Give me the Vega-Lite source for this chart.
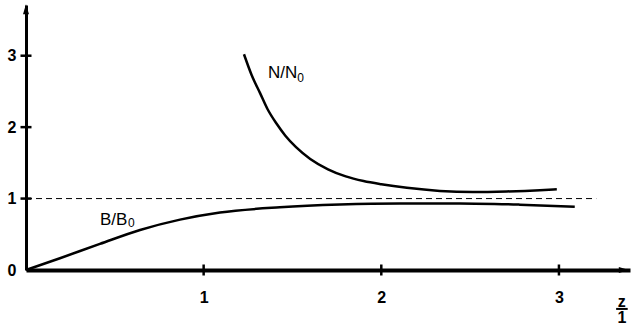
{
  "$schema": "https://vega.github.io/schema/vega-lite/v6.json",
  "autosize": {"type": "none"},
  "padding": {"left": 26, "top": 5, "right": 2, "bottom": 58},
  "width": 604,
  "height": 265,
  "background": "white",
  "config": {"view": {"stroke": null}},
  "datasets": {
    "curves": [
      {"series": "B", "z": 0, "v": 0},
      {"series": "B", "z": 0.191, "v": 0.165},
      {"series": "B", "z": 0.416, "v": 0.365},
      {"series": "B", "z": 0.642, "v": 0.56},
      {"series": "B", "z": 0.867, "v": 0.705},
      {"series": "B", "z": 1.092, "v": 0.805},
      {"series": "B", "z": 1.429, "v": 0.878},
      {"series": "B", "z": 1.767, "v": 0.917},
      {"series": "B", "z": 2.105, "v": 0.932},
      {"series": "B", "z": 2.442, "v": 0.932},
      {"series": "B", "z": 2.78, "v": 0.915},
      {"series": "B", "z": 3.089, "v": 0.885},
      {"series": "N", "z": 1.227, "v": 3.02},
      {"series": "N", "z": 1.27, "v": 2.73},
      {"series": "N", "z": 1.317, "v": 2.48},
      {"series": "N", "z": 1.36, "v": 2.25},
      {"series": "N", "z": 1.41, "v": 2.05},
      {"series": "N", "z": 1.46, "v": 1.88},
      {"series": "N", "z": 1.52, "v": 1.72},
      {"series": "N", "z": 1.6, "v": 1.555},
      {"series": "N", "z": 1.7, "v": 1.41},
      {"series": "N", "z": 1.8, "v": 1.31},
      {"series": "N", "z": 1.9, "v": 1.245},
      {"series": "N", "z": 2.0, "v": 1.2},
      {"series": "N", "z": 2.144, "v": 1.15},
      {"series": "N", "z": 2.33, "v": 1.107},
      {"series": "N", "z": 2.515, "v": 1.092},
      {"series": "N", "z": 2.707, "v": 1.1},
      {"series": "N", "z": 2.893, "v": 1.117},
      {"series": "N", "z": 2.988, "v": 1.13}
    ],
    "ref": [{"z": 0, "v": 1}, {"z": 3.21, "v": 1}],
    "yticks": [{"z": 0, "v": 1}, {"z": 0, "v": 2}, {"z": 0, "v": 3}],
    "xticks": [{"z": 1, "v": 0}, {"z": 2, "v": 0}, {"z": 3, "v": 0}],
    "labels": [
      {"z": 1.362, "v": 2.685, "label": "N/N"},
      {"z": 0.416, "v": 0.629, "label": "B/B"}
    ],
    "subs": [
      {"z": 1.527, "v": 2.63, "label": "0"},
      {"z": 0.574, "v": 0.601, "label": "0"}
    ],
    "frac": [
      {"z": 3.354, "v": -0.517, "label": "z"},
      {"z": 3.354, "v": -0.741, "label": "1"}
    ],
    "bar": [{"z": 3.322, "z2": 3.387, "v": -0.545}],
    "arrowY": [{"z": 0, "v": 3.65}],
    "arrowX": [{"z": 3.365, "v": 0}]
  },
  "encoding": {
    "x": {
      "field": "z", "type": "quantitative",
      "scale": {"domain": [0, 3.4], "nice": false, "zero": false},
      "axis": {
        "values": [1, 2, 3], "ticks": false, "grid": false, "title": null,
        "domainColor": "black", "domainWidth": 4,
        "labelPadding": 19, "labelFont": "Liberation Sans", "labelFontSize": 16,
        "labelFontWeight": "bold", "labelColor": "black"
      }
    },
    "y": {
      "field": "v", "type": "quantitative",
      "scale": {"domain": [0, 3.71], "nice": false, "zero": false},
      "axis": {
        "values": [0, 1, 2, 3], "ticks": false, "grid": false, "title": null,
        "domainColor": "black", "domainWidth": 3,
        "labelPadding": 10, "labelFont": "Liberation Sans", "labelFontSize": 16,
        "labelFontWeight": "bold", "labelColor": "black"
      }
    }
  },
  "layer": [
    {
      "data": {"name": "ref"},
      "mark": {"type": "line", "color": "black", "strokeWidth": 1, "strokeDash": [6, 4]}
    },
    {
      "data": {"name": "curves"},
      "mark": {"type": "line", "color": "black", "strokeWidth": 2.5, "interpolate": "monotone"},
      "encoding": {"detail": {"field": "series"}}
    },
    {
      "data": {"name": "yticks"},
      "mark": {"type": "tick", "orient": "horizontal", "color": "black", "size": 11, "thickness": 2.5, "opacity": 1}
    },
    {
      "data": {"name": "xticks"},
      "mark": {"type": "tick", "orient": "vertical", "color": "black", "size": 11, "thickness": 2.5, "opacity": 1}
    },
    {
      "data": {"name": "arrowY"},
      "mark": {"type": "point", "shape": "M0,-1L-0.6,1L0.6,1Z", "size": 100, "filled": true, "color": "black", "opacity": 1}
    },
    {
      "data": {"name": "arrowX"},
      "mark": {"type": "point", "shape": "M1,0L-1,-0.6L-1,0.6Z", "size": 100, "filled": true, "color": "black", "opacity": 1}
    },
    {
      "data": {"name": "labels"},
      "mark": {"type": "text", "align": "left", "baseline": "alphabetic", "font": "Liberation Sans", "fontSize": 17, "fill": "black"},
      "encoding": {"text": {"field": "label"}}
    },
    {
      "data": {"name": "subs"},
      "mark": {"type": "text", "align": "left", "baseline": "alphabetic", "font": "Liberation Sans", "fontSize": 12, "fill": "black"},
      "encoding": {"text": {"field": "label"}}
    },
    {
      "data": {"name": "frac"},
      "mark": {"type": "text", "align": "center", "baseline": "alphabetic", "font": "Liberation Sans", "fontSize": 16, "fontWeight": "bold", "fill": "black"},
      "encoding": {"text": {"field": "label"}}
    },
    {
      "data": {"name": "bar"},
      "mark": {"type": "rule", "color": "black", "strokeWidth": 2},
      "encoding": {"x2": {"field": "z2"}}
    }
  ]
}
